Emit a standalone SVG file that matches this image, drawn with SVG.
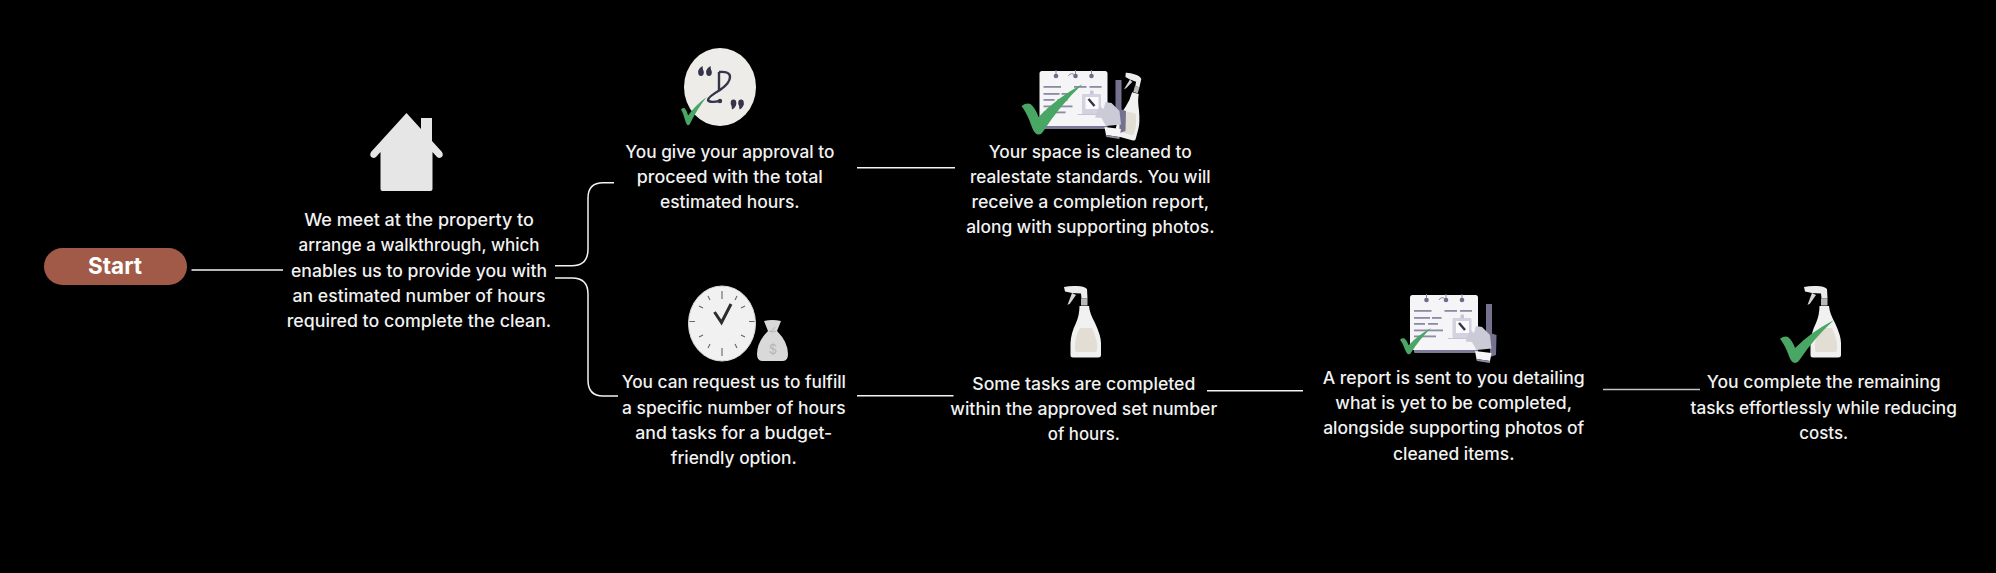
<svg xmlns="http://www.w3.org/2000/svg" xmlns:xlink="http://www.w3.org/1999/xlink" width="1996" height="573" viewBox="0 0 1996 573">
<style>
text{font-family:"Inter","Noto Sans","Liberation Sans",sans-serif;}
.t{font-size:17px;font-weight:500;fill:#f2f2f2;text-anchor:middle;}
.c{fill:none;stroke:#f4f4f4;stroke-width:1.5;stroke-linecap:butt;}
.ln{fill:#8d8aa6;}
.rg{fill:#6f6c8b;}
.hk{stroke:#8a87a3;stroke-width:1;fill:none;}
.tk{stroke:#666;stroke-width:1.1;}
</style>
<defs>
<path id="chk" fill="#4aa664" d="M0,22 Q5,18.500 9,20 Q14,24 17,33 Q35,14 61,0 Q38,22 22,47 Q19,52 15,50 Q12,48 10,42 Q6,30 0,22Z"/>
<g id="bottle">
<path d="M0,1 Q6,-0.500 13,0 Q20,0 23,3 L23.500,12.500 L17.500,12.500 L17,7.500 L8,7 L1,5.500Z" fill="#ececec"/>
<path d="M8,7 L3.500,19 L6,17.500 L12,9Z" fill="#d4d4d4"/>
<rect x="17" y="12.500" width="6.500" height="7" fill="#b9b9b9"/>
<path d="M15.500,20 L25,20 Q25.500,27 31,37 Q37,50 37,57 L37,69 Q37,71.500 34,71.500 L9,71.500 Q6.500,71.500 6.500,69 L6.500,57 Q7,47 12,37 Q15.500,29 15.500,20Z" fill="#f1f1f1"/>
<path d="M16,42 L28,42 Q32.500,52 33,58 L33,64 Q33,66 31,66 L13,66 Q11,66 11,64 L11,58 Q11.500,50 16,42Z" fill="#e3ded4"/>
</g>
<g id="paper">
<rect x="4" y="50" width="64" height="8" rx="1.500" fill="#7d7a99"/>
<rect x="0" y="0" width="68" height="55" rx="2.500" fill="#f5f4f7"/>
<path class="hk" d="M16.500,5V-1M36,5V-1M52,5V-1"/>
<circle class="rg" cx="16.500" cy="5" r="2.300"/><circle class="rg" cx="36" cy="5" r="2.300"/><circle class="rg" cx="52" cy="5" r="2.300"/>
<path d="M29,5 a3.500,3.500 0 0 1 6,-1" class="hk"/>
<rect class="ln" x="4" y="15" width="17.500" height="1.800"/><rect class="ln" x="34.500" y="15" width="12.500" height="1.800"/><rect class="ln" x="50" y="15" width="12" height="1.800"/>
<rect class="ln" x="4" y="22" width="16" height="1.800"/><rect class="ln" x="22" y="22" width="9.500" height="1.800"/>
<rect class="ln" x="4" y="28" width="11" height="1.800"/><rect class="ln" x="18" y="28" width="10" height="1.800"/>
<rect class="ln" x="4" y="34.500" width="29" height="1.800"/>
<rect class="ln" x="4" y="40.500" width="22" height="1.800"/>
<rect x="38" y="43" width="22" height="1" fill="#c5c3d4"/>
<rect x="42.500" y="23" width="19" height="20" rx="1" fill="#d4d2e0"/>
<rect x="46" y="26" width="13" height="12" fill="#fbfbfb"/>
<rect x="50.500" y="19.500" width="3.500" height="4" rx="1" fill="#c6c4d5"/>
<path d="M49,28 L55,35" stroke="#33324a" stroke-width="2.400"/>
<rect x="76" y="9" width="6" height="42" fill="#75728f"/>
</g>
<g id="glove">
<path d="M80,38 L86.500,40 L86,60 L80,62Z" fill="#75728f"/>
<path d="M55.500,46.500 L60,35 L64,38 L66,31 L72,32 L80,40 L81.500,53.500 L66.500,55 L62,47Z" fill="#cbcad7"/>
<path d="M65,56 L81.500,58 L80,66 L66.500,64Z" fill="#f5f5f7"/>
<path d="M66,64 L80,66 L80,68 L67,66Z" fill="#8f8ca6"/>
</g>
</defs>
<rect width="1996" height="573" fill="#000"/>
<g id="connectors">
<path class="c" d="M191.500,270H283"/>
<path class="c" d="M555,265.700H572Q588,265.700 588,249V198Q588,182.700 603,182.700H614"/>
<path class="c" d="M555,278H572Q588,278 588,294V380Q588,396 603,396H618"/>
<path class="c" d="M857,167.700H955"/>
<path class="c" d="M857,395.700H953.500"/>
<path class="c" d="M1207,390.700H1303"/>
<path class="c" d="M1603,389.500H1700" style="stroke:#c2c2c2"/>
</g>
<g id="start">
<rect x="44" y="248" width="143" height="37" rx="18.500" fill="#a15a48"/>
<text x="115" y="274" font-size="23" font-weight="700" fill="#fff" text-anchor="middle" textLength="54" lengthAdjust="spacingAndGlyphs">Start</text>
</g>
<g id="walkthrough">
<path d="M406.500,113 L421,129 L421,118 L432,118 L432,141 L442,152 Q444,156 441,157.500 Q439,158.500 437,157 L432.500,152 L432.500,189 Q432.500,191 430.500,191 L382.500,191 Q380.500,191 380.500,189 L380.500,152 L376,157 Q374,158.500 372,157.500 Q369,155.500 371,152Z" fill="#e6e6e6"/>
<text class="t" x="419" y="226" textLength="229.600" lengthAdjust="spacingAndGlyphs">We meet at the property to</text>
<text class="t" x="419" y="251" textLength="241" lengthAdjust="spacingAndGlyphs">arrange a walkthrough, which</text>
<text class="t" x="419" y="276.500" textLength="256" lengthAdjust="spacingAndGlyphs">enables us to provide you with</text>
<text class="t" x="419" y="302" textLength="253" lengthAdjust="spacingAndGlyphs">an estimated number of hours</text>
<text class="t" x="419" y="327" textLength="264.500" lengthAdjust="spacingAndGlyphs">required to complete the clean.</text>
</g>
<g id="approval">
<ellipse cx="720" cy="87" rx="36" ry="39" fill="#edece8"/>
<path d="M719,72 L719,90 M719,72 Q730,71 730,77 Q730,83 720,90 Q708,97 708,100 Q709,103 720,101" fill="none" stroke="#34344a" stroke-width="2.400"/>
<circle cx="720" cy="101" r="2.200" fill="#34344a"/>
<g fill="#34344a"><ellipse cx="701" cy="72.500" rx="2.800" ry="3.400"/><ellipse cx="709" cy="72.500" rx="2.800" ry="3.400"/><path d="M698.300,72 Q698.500,68 702.500,66 L703,70ZM706.300,72 Q706.500,68 710.500,66 L711,70Z"/>
<ellipse cx="733.500" cy="103" rx="2.800" ry="3.400"/><ellipse cx="741" cy="103" rx="2.800" ry="3.400"/><path d="M736.200,103.500 Q736,107.500 732,109.500 L731.500,105.500ZM743.700,103.500 Q743.500,107.500 739.500,109.500 L739,105.500Z"/></g>
<use href="#chk" transform="translate(681,97) scale(.42,.56)"/>
<text class="t" x="729.800" y="157.500" textLength="209" lengthAdjust="spacingAndGlyphs">You give your approval to</text>
<text class="t" x="729.800" y="182.500" textLength="186" lengthAdjust="spacingAndGlyphs">proceed with the total</text>
<text class="t" x="729.800" y="207.500" textLength="139.700" lengthAdjust="spacingAndGlyphs">estimated hours.</text>
</g>
<g id="cleaned">
<use href="#paper" transform="translate(1039.500,71)"/>
<use href="#bottle" transform="translate(1126,72) rotate(15) scale(.72,.9)"/>
<use href="#glove" transform="translate(1039.500,71)"/>
<use href="#chk" transform="translate(1021.500,84)"/>
<text class="t" x="1090.300" y="157.500" textLength="203" lengthAdjust="spacingAndGlyphs">Your space is cleaned to</text>
<text class="t" x="1090.300" y="182.500" textLength="240.700" lengthAdjust="spacingAndGlyphs">realestate standards. You will</text>
<text class="t" x="1090.300" y="207.500" textLength="237.800" lengthAdjust="spacingAndGlyphs">receive a completion report,</text>
<text class="t" x="1090.300" y="233" textLength="248.300" lengthAdjust="spacingAndGlyphs">along with supporting photos.</text>
</g>
<g id="budget">
<ellipse cx="722" cy="323.500" rx="33.500" ry="37.500" fill="#f1f1f1" stroke="#dcdcdc" stroke-width="1"/>
<path class="tk" d="M722,291V299M722,348V356M695,321.500H689.500M754.500,321.500H749M708,296L710,300M737,296L735,300M699,306L703,308M745,306L741,308M699,337L703,335M745,337L741,335M708,348L710,344M737,348L735,344"/>
<path d="M714.500,312 L721.500,322.500 L731,304" fill="none" stroke="#2c2c2c" stroke-width="3"/>
<path d="M764,321 Q772,319 781,321 L777,331 Q788,342 788,354 Q788,361 783,361 L762,361 Q757,361 757,354 Q757,342 768,331Z" fill="#d9d9d9"/>
<path d="M769,331 Q772,333 776,331 M771,332 L775,327" fill="none" stroke="#aaa" stroke-width=".8"/>
<text x="773" y="354" font-size="13" fill="#b5b5b5" text-anchor="middle">$</text>
<text class="t" x="733.800" y="388" textLength="224.300" lengthAdjust="spacingAndGlyphs">You can request us to fulfill</text>
<text class="t" x="733.800" y="414" textLength="223.500" lengthAdjust="spacingAndGlyphs">a specific number of hours</text>
<text class="t" x="733.800" y="439" textLength="197" lengthAdjust="spacingAndGlyphs">and tasks for a budget-</text>
<text class="t" x="733.800" y="464" textLength="126" lengthAdjust="spacingAndGlyphs">friendly option.</text>
</g>
<g id="tasks">
<use href="#bottle" transform="translate(1064,286)"/>
<text class="t" x="1083.800" y="390" textLength="223" lengthAdjust="spacingAndGlyphs">Some tasks are completed</text>
<text class="t" x="1083.800" y="415" textLength="267" lengthAdjust="spacingAndGlyphs">within the approved set number</text>
<text class="t" x="1083.800" y="440" textLength="72" lengthAdjust="spacingAndGlyphs">of hours.</text>
</g>
<g id="report-sent">
<use href="#paper" transform="translate(1410,295)"/>
<use href="#glove" transform="translate(1410,295)"/>
<use href="#chk" transform="translate(1400,328) scale(.51,.52)"/>
<text class="t" x="1453.700" y="384" textLength="262" lengthAdjust="spacingAndGlyphs">A report is sent to you detailing</text>
<text class="t" x="1453.700" y="409" textLength="236.800" lengthAdjust="spacingAndGlyphs">what is yet to be completed,</text>
<text class="t" x="1453.700" y="434" textLength="261" lengthAdjust="spacingAndGlyphs">alongside supporting photos of</text>
<text class="t" x="1453.700" y="460" textLength="121.500" lengthAdjust="spacingAndGlyphs">cleaned items.</text>
</g>
<g id="complete">
<use href="#bottle" transform="translate(1804,286)"/>
<use href="#chk" transform="translate(1780,320) scale(.885,.85)"/>
<text class="t" x="1823.700" y="388" textLength="233.700" lengthAdjust="spacingAndGlyphs">You complete the remaining</text>
<text class="t" x="1823.700" y="414" textLength="266.300" lengthAdjust="spacingAndGlyphs">tasks effortlessly while reducing</text>
<text class="t" x="1823.700" y="439" textLength="48.900" lengthAdjust="spacingAndGlyphs">costs.</text>
</g>
</svg>
